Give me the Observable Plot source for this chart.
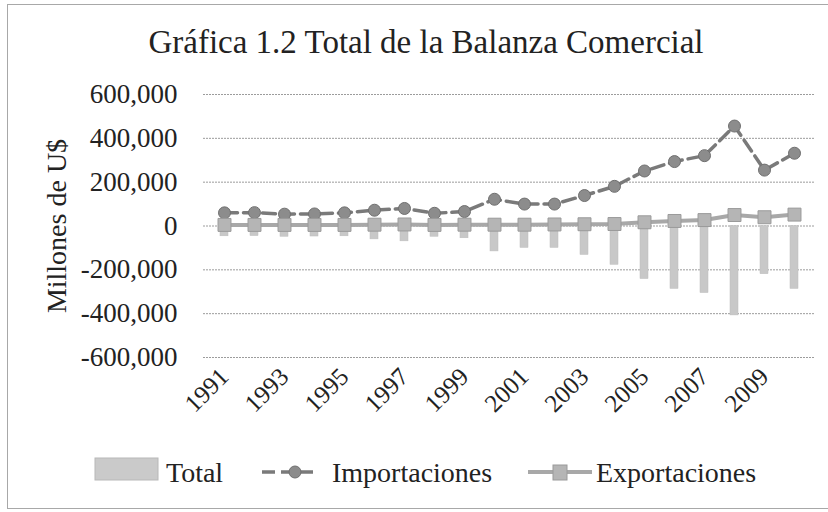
<!DOCTYPE html>
<html>
<head>
<meta charset="utf-8">
<script src="https://cdn.jsdelivr.net/npm/d3@7"></script>
<script src="https://cdn.jsdelivr.net/npm/@observablehq/plot@0.6"></script>
<style>
  html, body { margin: 0; padding: 0; background: #fff; }
  body { width: 828px; height: 512px; position: relative; overflow: hidden; font-family: "Liberation Serif", serif; color: #222; }
  #frame { position: absolute; left: 7px; top: 4px; width: 900px; height: 503px; border: 1px solid #a8a8a8; border-right: none; }
  #title { position: absolute; left: 0; top: 0; }
  #chart { position: absolute; left: 0; top: 70px; }
  #legend { position: absolute; left: 0; top: 440px; }
</style>
</head>
<body>
<div id="frame"></div>
<svg id="title" width="828" height="70">
  <text x="426" y="53" text-anchor="middle" font-family="Liberation Serif" font-size="33" fill="#222">Gráfica 1.2 Total de la Balanza Comercial</text>
</svg>
<div id="chart"></div>
<svg id="legend" width="828" height="60">
  <rect x="95" y="18" width="63" height="22" fill="#cacaca" stroke="#b8b8b8" stroke-width="1"></rect>
  <text x="166" y="42" font-family="Liberation Serif" font-size="28" fill="#222">Total</text>
  <line x1="262" y1="32" x2="313" y2="32" stroke="#7a7a7a" stroke-width="3.5" stroke-dasharray="13,6"></line>
  <circle cx="295" cy="32" r="6" fill="#8c8c8c" stroke="#6f6f6f" stroke-width="1"></circle>
  <text x="332" y="42" font-family="Liberation Serif" font-size="28" fill="#222">Importaciones</text>
  <line x1="528" y1="32" x2="592" y2="32" stroke="#a8a8a8" stroke-width="4"></line>
  <rect x="553" y="25" width="14" height="15" fill="#b5b5b5" stroke="#9a9a9a" stroke-width="1"></rect>
  <text x="596" y="42" font-family="Liberation Serif" font-size="28" fill="#222">Exportaciones</text>
</svg>
<script>
const years = [1991,1992,1993,1994,1995,1996,1997,1998,1999,2000,2001,2002,2003,2004,2005,2006,2007,2008,2009,2010];
const importaciones = [60000,61000,54000,55000,60000,72000,80000,58000,66000,122000,100000,100000,139000,181000,251000,294000,321000,456000,255000,332000];
const exportaciones = [5000,5000,5000,5000,5000,6000,7000,5000,6000,6000,6000,7000,8000,9000,17000,23000,27000,50000,40000,52000];
const total = [-47000,-46000,-49000,-48000,-47000,-61000,-70000,-49000,-56000,-116000,-100000,-100000,-132000,-177000,-242000,-287000,-306000,-408000,-220000,-287000];
const yTicks = [-600000,-400000,-200000,0,200000,400000,600000];
const xTickYears = [1991,1993,1995,1997,1999,2001,2003,2005,2007,2009];

const data = years.map((y, i) => ({year: y, imp: importaciones[i], exp: exportaciones[i], total: total[i]}));
const fmt = d => (d < 0 ? "-" : "") + d3.format(",")(Math.abs(d));

const chart = Plot.plot({
  width: 828,
  height: 357,
  marginLeft: 203,
  marginRight: 14,
  marginTop: 24,
  marginBottom: 70,
  style: {fontFamily: "Liberation Serif", color: "#222", background: "transparent", overflow: "visible"},
  x: {type: "band", domain: years, padding: 0},
  y: {domain: [-600000, 600000]},
  marks: [
    Plot.ruleY(yTicks, {stroke: "#9c9c9c", strokeWidth: 1, strokeDasharray: "2,1"}),
    Plot.axisY(yTicks, {tickSize: 0, tickPadding: 26, fontSize: 27, tickFormat: fmt, label: null}),
    Plot.axisX(xTickYears, {tickSize: 0, tickPadding: 15, tickRotate: -45, fontSize: 25, tickFormat: d => String(d), label: null}),
    Plot.text(["Millones de U$"], {frameAnchor: "left", textAnchor: "middle", rotate: -90, dx: -146, fontSize: 28, fill: "#222"}),
    Plot.barY(data, {x: "year", y: "total", fill: "#c8c8c8", stroke: "#bdbdbd", strokeWidth: 0.5, insetLeft: 11, insetRight: 11}),
    Plot.line(data, {x: "year", y: "imp", stroke: "#7a7a7a", strokeWidth: 3.5, strokeDasharray: "13,6"}),
    Plot.dot(data, {x: "year", y: "imp", r: 6, fill: "#8c8c8c", stroke: "#6f6f6f", strokeWidth: 1}),
    Plot.line(data, {x: "year", y: "exp", stroke: "#a8a8a8", strokeWidth: 4}),
    Plot.dot(data, {x: "year", y: "exp", symbol: "square", r: 7.3, fill: "#b5b5b5", stroke: "#9a9a9a", strokeWidth: 1})
  ]
});
document.getElementById("chart").appendChild(chart);
</script>
</body>
</html>
